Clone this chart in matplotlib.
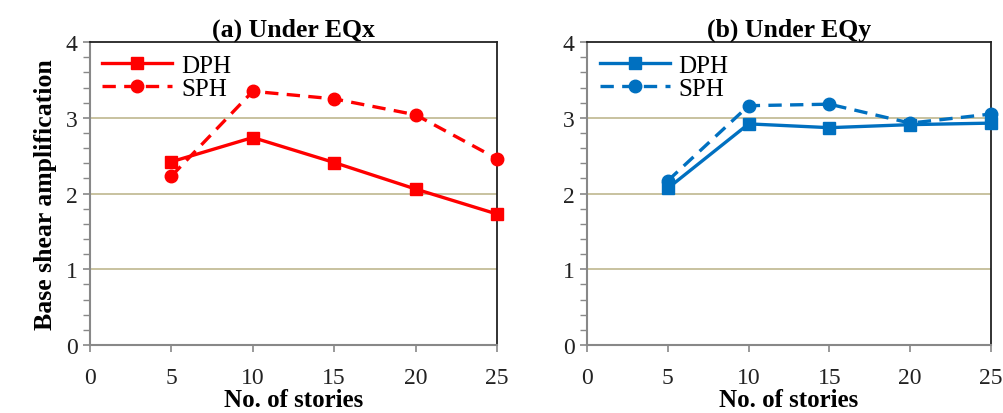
import numpy as np
import matplotlib.pyplot as plt
from matplotlib.ticker import MultipleLocator

plt.rcParams['font.family'] = ['Liberation Serif', 'DejaVu Serif']

stories = [5, 10, 15, 20, 25]
dph_x = [2.42, 2.74, 2.41, 2.06, 1.73]
sph_x = [2.23, 3.35, 3.25, 3.04, 2.46]
dph_y = [2.07, 2.92, 2.87, 2.91, 2.93]
sph_y = [2.17, 3.16, 3.18, 2.93, 3.05]
titles = ['(a) Under EQx', '(b) Under EQy']
colors = ['#ff0000', '#0070c0']

fig = plt.figure(figsize=(10.04, 4.14), dpi=100)
ax1 = fig.add_axes([0.0896, 0.164, 0.4054, 0.732])
ax2 = fig.add_axes([0.5847, 0.164, 0.4024, 0.732])

for ax, dph, sph, title, c in zip([ax1, ax2], [dph_x, dph_y], [sph_x, sph_y], titles, colors):
    ax.plot(stories, dph, '-s', color=c, lw=2.4, ms=9, label='DPH', clip_on=False, zorder=3)
    ax.plot(stories, sph, '--o', color=c, lw=2.4, ms=9, dashes=(4, 2.5), label='SPH', clip_on=False, zorder=3)
    ax.set_xlim(0, 25)
    ax.set_ylim(0, 4)
    ax.xaxis.set_major_locator(MultipleLocator(5))
    ax.yaxis.set_major_locator(MultipleLocator(1))
    ax.yaxis.set_minor_locator(MultipleLocator(0.2))
    for y in [1, 2, 3]:
        ax.axhline(y, color='#c4bd97', lw=1.3, zorder=1)
    ax.tick_params(axis='both', direction='out', labelsize=17, colors='#222222', length=5, width=1.2)
    ax.tick_params(axis='x', pad=11)
    ax.tick_params(axis='y', pad=4)
    ax.tick_params(axis='y', which='minor', length=5, width=1, color='#888888')
    ax.tick_params(axis='both', which='major', color='#888888')
    ax.spines['left'].set_color('#888888')
    ax.spines['bottom'].set_color('#888888')
    ax.spines['left'].set_linewidth(1.5)
    ax.spines['bottom'].set_linewidth(1.5)
    ax.spines['top'].set_color('#222222')
    ax.spines['right'].set_color('#222222')
    ax.spines['top'].set_linewidth(1.3)
    ax.spines['right'].set_linewidth(1.3)
    ax.set_title(title, fontsize=18.5, fontweight='bold', pad=5)
    ax.set_xlabel('No. of stories', fontsize=18, fontweight='bold', labelpad=0)
    ax.legend(loc='upper left', fontsize=18, frameon=False, handlelength=2.8,
              borderaxespad=0.1, labelspacing=0.0, handletextpad=0.35)

ax1.set_ylabel('Base shear amplification', fontsize=18.5, fontweight='bold', labelpad=6)

plt.savefig('out.png', dpi=100)
